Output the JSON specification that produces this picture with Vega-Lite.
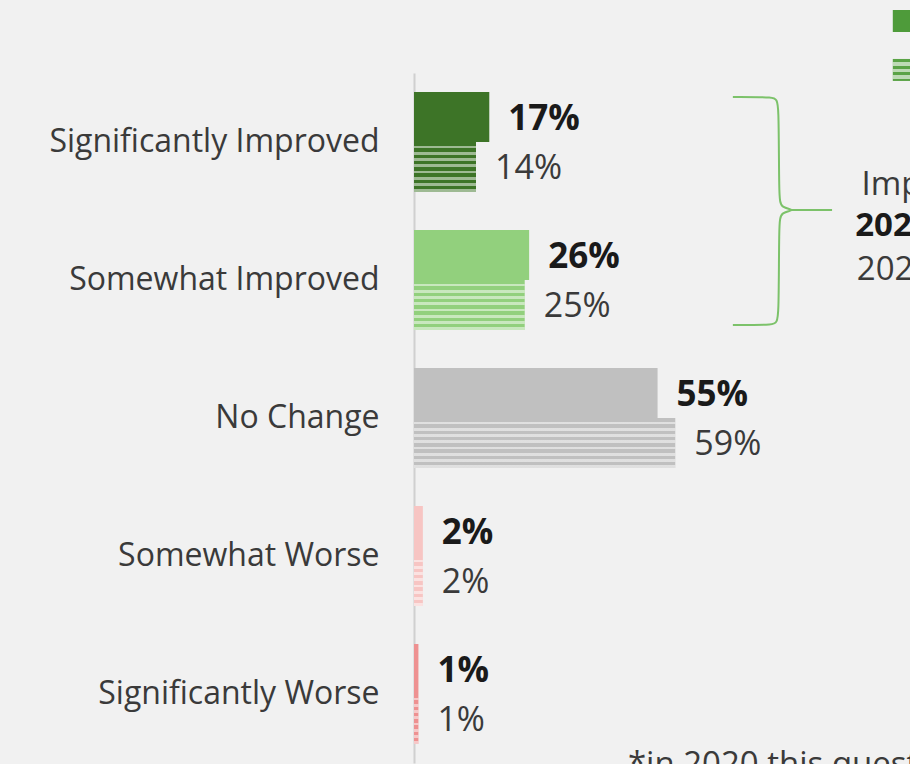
{
  "$schema": "https://vega.github.io/schema/vega-lite/v6.json",
  "width": 496,
  "height": 690,
  "autosize": {"type": "none"},
  "padding": {"left": 414, "top": 73, "right": 0, "bottom": 1},
  "background": "#f1f1f1",
  "config": {"view": {"stroke": null}, "font": "Open Sans"},
  "datasets": {
    "main": [
      {"category": "Significantly Improved", "year": "2021", "value": 17, "label": "17%"},
      {"category": "Significantly Improved", "year": "2020", "value": 14, "label": "14%"},
      {"category": "Somewhat Improved", "year": "2021", "value": 26, "label": "26%"},
      {"category": "Somewhat Improved", "year": "2020", "value": 25, "label": "25%"},
      {"category": "No Change", "year": "2021", "value": 55, "label": "55%"},
      {"category": "No Change", "year": "2020", "value": 59, "label": "59%"},
      {"category": "Somewhat Worse", "year": "2021", "value": 2, "label": "2%"},
      {"category": "Somewhat Worse", "year": "2020", "value": 2, "label": "2%"},
      {"category": "Significantly Worse", "year": "2021", "value": 1, "label": "1%"},
      {"category": "Significantly Worse", "year": "2020", "value": 1, "label": "1%"}
    ],
    "brace": [
      {"i": 1, "bx": 72.0, "by": 0.174},
      {"i": 2, "bx": 81.7, "by": 0.174},
      {"i": 3, "bx": 82.4, "by": 0.196},
      {"i": 4, "bx": 82.4, "by": 0.906},
      {"i": 5, "bx": 82.8, "by": 0.978},
      {"i": 6, "bx": 86.5, "by": 0.993},
      {"i": 7, "bx": 82.8, "by": 1.007},
      {"i": 8, "bx": 82.4, "by": 1.08},
      {"i": 9, "bx": 82.4, "by": 1.804},
      {"i": 10, "bx": 81.7, "by": 1.826},
      {"i": 11, "bx": 72.0, "by": 1.826}
    ],
    "tick": [{"x1": 84.8, "x2": 94.4, "ty": 0.993}],
    "notes": [
      {"nx": 117.8, "ny": 0.5, "text": "Net", "bold": false},
      {"nx": 117.8, "ny": 0.812, "text": "Improved", "bold": false},
      {"nx": 117.8, "ny": 1.109, "text": "2021: 43%", "bold": true},
      {"nx": 117.8, "ny": 1.428, "text": "2020: 39%", "bold": false}
    ],
    "legend": [
      {"year": "2021", "lx": 110.6, "ly": -0.377, "tx": 114, "label": "2021"},
      {"year": "2020", "lx": 110.6, "ly": -0.022, "tx": 114, "label": "2020*"}
    ],
    "foot": [{"fx": 48.3, "fy": 4.9, "text": "*in 2020 this question was asked differently"}]
  },
  "resolve": {"scale": {"y": "independent", "color": "independent"}, "axis": {"y": "independent"}},
  "layer": [
    {
      "data": {"name": "main"},
      "mark": {"type": "bar"},
      "encoding": {
        "y": {
          "field": "category", "type": "nominal",
          "scale": {"domain": ["Significantly Improved", "Somewhat Improved", "No Change", "Somewhat Worse", "Significantly Worse"], "paddingInner": 0.275, "paddingOuter": 0.1375},
          "axis": {"title": null, "ticks": false, "domainColor": "#d0d0d0", "domainWidth": 2, "labelFont": "Open Sans", "labelFontSize": 32, "labelColor": "#3a3a3a", "labelPadding": 35, "labelLimit": 400}
        },
        "yOffset": {"field": "year", "type": "nominal", "scale": {"domain": ["2021", "2020"], "paddingInner": 0}},
        "x": {"field": "value", "type": "quantitative", "scale": {"domain": [0, 112], "nice": false}, "axis": null},
        "color": {
          "field": "category", "type": "nominal", "legend": null,
          "scale": {"domain": ["Significantly Improved", "Somewhat Improved", "No Change", "Somewhat Worse", "Significantly Worse"], "range": ["#3d7427", "#92d07d", "#c0c0c0", "#f7c5c3", "#ee9191"]}
        }
      }
    },
    {
      "data": {"name": "main"},
      "transform": [{"filter": "datum.year === '2020'"}],
      "mark": {
        "type": "bar",
        "fill": {
          "gradient": "linear", "x1": 0, "y1": 0, "x2": 0, "y2": 1,
          "stops": [
            {"offset": 0, "color": "rgba(255,255,255,0)"},
            {"offset": 0.07, "color": "rgba(255,255,255,0)"},
            {"offset": 0.07, "color": "rgba(255,255,255,0.5)"},
            {"offset": 0.125, "color": "rgba(255,255,255,0.5)"},
            {"offset": 0.125, "color": "rgba(255,255,255,0)"},
            {"offset": 0.195, "color": "rgba(255,255,255,0)"},
            {"offset": 0.195, "color": "rgba(255,255,255,0.5)"},
            {"offset": 0.25, "color": "rgba(255,255,255,0.5)"},
            {"offset": 0.25, "color": "rgba(255,255,255,0)"},
            {"offset": 0.32, "color": "rgba(255,255,255,0)"},
            {"offset": 0.32, "color": "rgba(255,255,255,0.5)"},
            {"offset": 0.375, "color": "rgba(255,255,255,0.5)"},
            {"offset": 0.375, "color": "rgba(255,255,255,0)"},
            {"offset": 0.445, "color": "rgba(255,255,255,0)"},
            {"offset": 0.445, "color": "rgba(255,255,255,0.5)"},
            {"offset": 0.5, "color": "rgba(255,255,255,0.5)"},
            {"offset": 0.5, "color": "rgba(255,255,255,0)"},
            {"offset": 0.57, "color": "rgba(255,255,255,0)"},
            {"offset": 0.57, "color": "rgba(255,255,255,0.5)"},
            {"offset": 0.625, "color": "rgba(255,255,255,0.5)"},
            {"offset": 0.625, "color": "rgba(255,255,255,0)"},
            {"offset": 0.695, "color": "rgba(255,255,255,0)"},
            {"offset": 0.695, "color": "rgba(255,255,255,0.5)"},
            {"offset": 0.75, "color": "rgba(255,255,255,0.5)"},
            {"offset": 0.75, "color": "rgba(255,255,255,0)"},
            {"offset": 0.82, "color": "rgba(255,255,255,0)"},
            {"offset": 0.82, "color": "rgba(255,255,255,0.5)"},
            {"offset": 0.875, "color": "rgba(255,255,255,0.5)"},
            {"offset": 0.875, "color": "rgba(255,255,255,0)"},
            {"offset": 0.945, "color": "rgba(255,255,255,0)"},
            {"offset": 0.945, "color": "rgba(255,255,255,0.5)"},
            {"offset": 1, "color": "rgba(255,255,255,0.5)"}
          ]
        }
      },
      "encoding": {
        "y": {"field": "category", "type": "nominal", "scale": {"domain": ["Significantly Improved", "Somewhat Improved", "No Change", "Somewhat Worse", "Significantly Worse"], "paddingInner": 0.275, "paddingOuter": 0.1375}, "axis": null},
        "yOffset": {"field": "year", "type": "nominal", "scale": {"domain": ["2021", "2020"], "paddingInner": 0}},
        "x": {"field": "value", "type": "quantitative"}
      }
    },
    {
      "data": {"name": "main"},
      "transform": [{"filter": "datum.year === '2021'"}],
      "mark": {"type": "text", "align": "left", "baseline": "middle", "dx": 19, "dy": 2, "fontSize": 35, "fontWeight": "bold", "color": "#1a1a1a"},
      "encoding": {
        "y": {"field": "category", "type": "nominal", "scale": {"domain": ["Significantly Improved", "Somewhat Improved", "No Change", "Somewhat Worse", "Significantly Worse"], "paddingInner": 0.275, "paddingOuter": 0.1375}, "axis": null},
        "yOffset": {"field": "year", "type": "nominal", "scale": {"domain": ["2021", "2020"], "paddingInner": 0}},
        "x": {"field": "value", "type": "quantitative"},
        "text": {"field": "label"}
      }
    },
    {
      "data": {"name": "main"},
      "transform": [{"filter": "datum.year === '2020'"}],
      "mark": {"type": "text", "align": "left", "baseline": "middle", "dx": 19, "dy": 2, "fontSize": 34, "color": "#3a3a3a"},
      "encoding": {
        "y": {"field": "category", "type": "nominal", "scale": {"domain": ["Significantly Improved", "Somewhat Improved", "No Change", "Somewhat Worse", "Significantly Worse"], "paddingInner": 0.275, "paddingOuter": 0.1375}, "axis": null},
        "yOffset": {"field": "year", "type": "nominal", "scale": {"domain": ["2021", "2020"], "paddingInner": 0}},
        "x": {"field": "value", "type": "quantitative"},
        "text": {"field": "label"}
      }
    },
    {
      "data": {"name": "brace"},
      "mark": {"type": "line", "interpolate": "basis", "color": "#7cc26a", "strokeWidth": 2},
      "encoding": {
        "x": {"field": "bx", "type": "quantitative"},
        "y": {"field": "by", "type": "quantitative", "scale": {"domain": [0, 5], "reverse": true, "nice": false, "zero": false}, "axis": null},
        "order": {"field": "i", "type": "quantitative"}
      }
    },
    {
      "data": {"name": "tick"},
      "mark": {"type": "rule", "color": "#7cc26a", "strokeWidth": 2},
      "encoding": {
        "x": {"field": "x1", "type": "quantitative"},
        "x2": {"field": "x2"},
        "y": {"field": "ty", "type": "quantitative", "scale": {"domain": [0, 5], "reverse": true, "nice": false, "zero": false}, "axis": null}
      }
    },
    {
      "data": {"name": "notes"},
      "transform": [{"filter": "!datum.bold"}],
      "mark": {"type": "text", "align": "center", "baseline": "middle", "fontSize": 33, "color": "#3a3a3a"},
      "encoding": {
        "x": {"field": "nx", "type": "quantitative"},
        "y": {"field": "ny", "type": "quantitative", "scale": {"domain": [0, 5], "reverse": true, "nice": false, "zero": false}, "axis": null},
        "text": {"field": "text"}
      }
    },
    {
      "data": {"name": "notes"},
      "transform": [{"filter": "datum.bold"}],
      "mark": {"type": "text", "align": "center", "baseline": "middle", "fontSize": 33, "fontWeight": "bold", "color": "#1a1a1a"},
      "encoding": {
        "x": {"field": "nx", "type": "quantitative"},
        "y": {"field": "ny", "type": "quantitative", "scale": {"domain": [0, 5], "reverse": true, "nice": false, "zero": false}, "axis": null},
        "text": {"field": "text"}
      }
    },
    {
      "data": {"name": "legend"},
      "mark": {"type": "point", "shape": "square", "filled": true, "size": 484, "opacity": 1},
      "encoding": {
        "x": {"field": "lx", "type": "quantitative"},
        "y": {"field": "ly", "type": "quantitative", "scale": {"domain": [0, 5], "reverse": true, "nice": false, "zero": false}, "axis": null},
        "color": {"field": "year", "type": "nominal", "legend": null, "scale": {"domain": ["2021", "2020"], "range": ["#4e9b3a", "#5aa346"]}}
      }
    },
    {
      "data": {"name": "legend"},
      "transform": [{"filter": "datum.year === '2020'"}],
      "mark": {
        "type": "point", "shape": "square", "filled": true, "size": 484, "opacity": 1,
        "fill": {
          "gradient": "linear", "x1": 0, "y1": 0, "x2": 0, "y2": 1,
          "stops": [
            {"offset": 0, "color": "rgba(255,255,255,0)"},
            {"offset": 0.15, "color": "rgba(255,255,255,0)"},
            {"offset": 0.15, "color": "rgba(255,255,255,0.6)"},
            {"offset": 0.3, "color": "rgba(255,255,255,0.6)"},
            {"offset": 0.3, "color": "rgba(255,255,255,0)"},
            {"offset": 0.45, "color": "rgba(255,255,255,0)"},
            {"offset": 0.45, "color": "rgba(255,255,255,0.6)"},
            {"offset": 0.6, "color": "rgba(255,255,255,0.6)"},
            {"offset": 0.6, "color": "rgba(255,255,255,0)"},
            {"offset": 0.75, "color": "rgba(255,255,255,0)"},
            {"offset": 0.75, "color": "rgba(255,255,255,0.6)"},
            {"offset": 0.9, "color": "rgba(255,255,255,0.6)"},
            {"offset": 0.9, "color": "rgba(255,255,255,0)"},
            {"offset": 1, "color": "rgba(255,255,255,0)"}
          ]
        }
      },
      "encoding": {
        "x": {"field": "lx", "type": "quantitative"},
        "y": {"field": "ly", "type": "quantitative", "scale": {"domain": [0, 5], "reverse": true, "nice": false, "zero": false}, "axis": null}
      }
    },
    {
      "data": {"name": "legend"},
      "mark": {"type": "text", "align": "left", "baseline": "middle", "fontSize": 33, "color": "#3a3a3a"},
      "encoding": {
        "x": {"field": "tx", "type": "quantitative"},
        "y": {"field": "ly", "type": "quantitative", "scale": {"domain": [0, 5], "reverse": true, "nice": false, "zero": false}, "axis": null},
        "text": {"field": "label"}
      }
    },
    {
      "data": {"name": "foot"},
      "mark": {"type": "text", "align": "left", "baseline": "top", "fontSize": 33, "color": "#3a3a3a"},
      "encoding": {
        "x": {"field": "fx", "type": "quantitative"},
        "y": {"field": "fy", "type": "quantitative", "scale": {"domain": [0, 5], "reverse": true, "nice": false, "zero": false}, "axis": null},
        "text": {"field": "text"}
      }
    }
  ]
}
